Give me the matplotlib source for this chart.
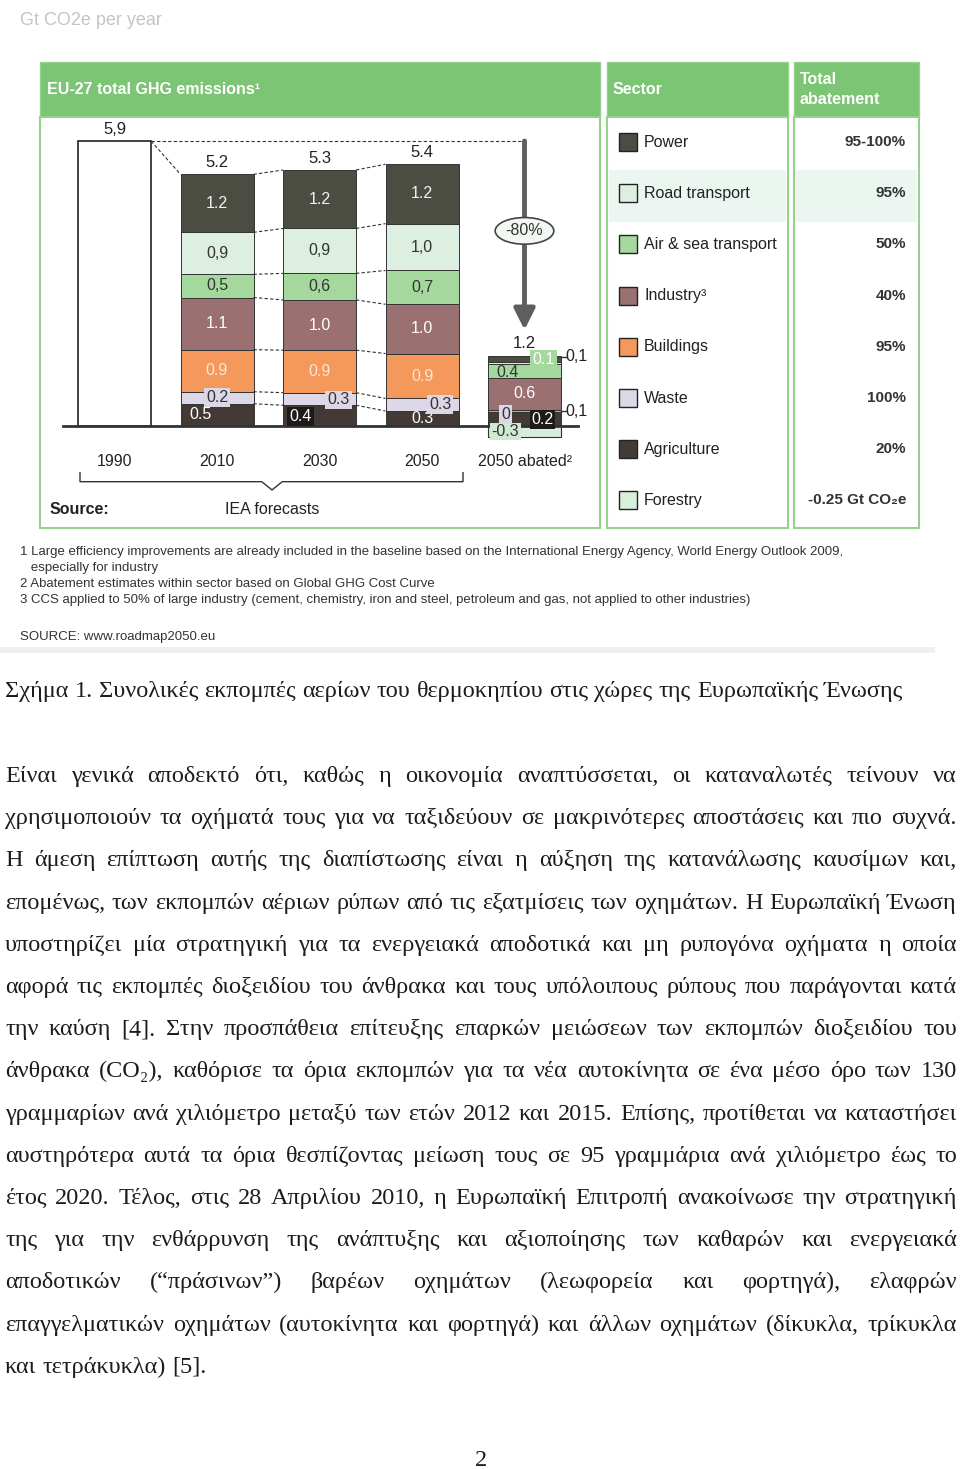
import numpy as np
import matplotlib
matplotlib.use("Agg")
import matplotlib.pyplot as plt
from matplotlib.patches import Rectangle

"""
Data read off the scanned page (Gt CO2e per year)
stack order is bottom -> top
"""
years = ['1990', '2010', '2030', '2050', '2050 abated²']
total_1990 = 5.9
agriculture = [0.46, 0.43, 0.31, 0.28]
waste = [0.25, 0.26, 0.26, 0.0]
buildings = [0.87, 0.88, 0.93, 0.06]
industry = [1.08, 1.04, 1.02, 0.66]
air_sea = [0.48, 0.55, 0.70, 0.29]
road = [0.87, 0.93, 0.97, 0.04]
power = [1.20, 1.21, 1.23, 0.12]
forestry_abated = -0.23

total_lbl = ['5,9', '5.2', '5.3', '5.4', '1.2']
agriculture_lbl = ['0.5', '0.4', '0.3', '0.2']
waste_lbl = ['0.2', '0.3', '0.3', '0']
buildings_lbl = ['0.9', '0.9', '0.9', '0,1']
industry_lbl = ['1.1', '1.0', '1.0', '0.6']
air_sea_lbl = ['0,5', '0,6', '0,7', '0.4']
road_lbl = ['0,9', '0,9', '1,0', '0.1']
power_lbl = ['1.2', '1.2', '1.2', '0,1']
forestry_lbl = '-0.3'

legend_names = ['Power', 'Road transport', 'Air & sea transport', 'Industry³',
                'Buildings', 'Waste', 'Agriculture', 'Forestry']
abatement = ['95-100%', '95%', '50%', '40%', '95%', '100%', '20%', '-0.25 Gt CO₂e']

footnotes = [
    '1 Large efficiency improvements are already included in the baseline based on the International Energy Agency, World Energy Outlook 2009,',
    '   especially for industry',
    '2 Abatement estimates within sector based on Global GHG Cost Curve',
    '3 CCS applied to 50% of large industry (cement, chemistry, iron and steel, petroleum and gas, not applied to other industries)',
]

caption = 'Σχήμα 1. Συνολικές εκπομπές αερίων του θερμοκηπίου στις χώρες της Ευρωπαϊκής Ένωσης'
body_lines = [
    'Είναι γενικά αποδεκτό ότι, καθώς η οικονομία αναπτύσσεται, οι καταναλωτές τείνουν να',
    'χρησιμοποιούν τα οχήματά τους για να ταξιδεύουν σε μακρινότερες αποστάσεις και πιο συχνά.',
    'Η άμεση επίπτωση αυτής της διαπίστωσης είναι η αύξηση της κατανάλωσης καυσίμων και,',
    'επομένως, των εκπομπών αέριων ρύπων από τις εξατμίσεις των οχημάτων. Η Ευρωπαϊκή Ένωση',
    'υποστηρίζει μία στρατηγική για τα ενεργειακά αποδοτικά και μη ρυπογόνα οχήματα η οποία',
    'αφορά τις εκπομπές διοξειδίου του άνθρακα και τους υπόλοιπους ρύπους που παράγονται κατά',
    'την καύση [4]. Στην προσπάθεια επίτευξης επαρκών μειώσεων των εκπομπών διοξειδίου του',
    'άνθρακα (CO₂), καθόρισε τα όρια εκπομπών για τα νέα αυτοκίνητα σε ένα μέσο όρο των 130',
    'γραμμαρίων ανά χιλιόμετρο μεταξύ των ετών 2012 και 2015. Επίσης, προτίθεται να καταστήσει',
    'αυστηρότερα αυτά τα όρια θεσπίζοντας μείωση τους σε 95 γραμμάρια ανά χιλιόμετρο έως το',
    'έτος 2020. Τέλος, στις 28 Απριλίου 2010, η Ευρωπαϊκή Επιτροπή ανακοίνωσε την στρατηγική',
    'της για την ενθάρρυνση της ανάπτυξης και αξιοποίησης των καθαρών και ενεργειακά',
    'αποδοτικών (“πράσινων”) βαρέων οχημάτων (λεωφορεία και φορτηγά), ελαφρών',
    'επαγγελματικών οχημάτων (αυτοκίνητα και φορτηγά) και άλλων οχημάτων (δίκυκλα, τρίκυκλα',
    'και τετράκυκλα) [5].',
]

# colours
c_power = '#4b4c42'
c_road = '#dcefe0'
c_air = '#a5d89c'
c_industry = '#9b7070'
c_buildings = '#f4995b'
c_waste = '#ddd8e8'
c_agri = '#433a36'
c_forest = '#d6eeda'
green_head = '#7cc574'
green_line = '#95d18d'
ink = '#1c1c1c'

sans = ['Liberation Sans', 'DejaVu Sans']
serif = ['Liberation Serif', 'DejaVu Serif']
narrow = ['Liberation Sans Narrow', 'Liberation Sans', 'DejaVu Sans']

fig = plt.figure(figsize=(9.6, 14.69), dpi=100)
page = fig.add_axes([0, 0, 1, 1])
page.set_xlim(0, 960)
page.set_ylim(1469, 0)
page.axis('off')
r = fig.canvas.get_renderer()

page.text(20, 20, 'Gt CO2e per year', fontsize=13, color='#c4c4c4', va='center', family=sans)

# panels (header + body)
panels = [(40, 600), (607, 788), (794, 919)]
for x0, x1 in panels:
    page.add_patch(Rectangle((x0, 62), x1 - x0, 55, fc=green_head, ec=green_line, lw=1))
    page.add_patch(Rectangle((x0, 117), x1 - x0, 411, fc='white', ec=green_line, lw=1.5))
# highlighted row (road transport)
page.add_patch(Rectangle((609, 170), 177, 52, fc='#ecf6f0', ec='none'))
page.add_patch(Rectangle((796, 170), 121, 52, fc='#ecf6f0', ec='none'))

page.text(47, 89, 'EU-27 total GHG emissions¹', color='white', fontsize=11.5, weight='bold', va='center', family=sans)
page.text(613, 89, 'Sector', color='white', fontsize=11.5, weight='bold', va='center', family=sans)
page.text(800, 79, 'Total', color='white', fontsize=11.5, weight='bold', va='center', family=sans)
page.text(800, 99, 'abatement', color='white', fontsize=11.5, weight='bold', va='center', family=sans)

# legend rows
leg_colors = [c_power, c_road, c_air, c_industry, c_buildings, c_waste, c_agri, c_forest]
for i, (name, col, ab) in enumerate(zip(legend_names, leg_colors, abatement)):
    yy = 142 + i * 51.2
    page.add_patch(Rectangle((619, yy - 9), 18, 18, fc=col, ec='#222', lw=1))
    page.text(644, yy, name, fontsize=11.5, color='#222', va='center', family=sans)
    page.text(906, yy, ab, fontsize=11, color='#333', va='center', ha='right', weight='bold', family=sans)

# ---------------- bar chart ----------------
BASE_Y = 426
PX_PER_GT = 48.3
ax = fig.add_axes([40 / 960, 1 - 528 / 1469, 560 / 960, 411 / 1469])
ax.set_facecolor('none')
ax.set_ylim(-(528 - BASE_Y) / PX_PER_GT, (BASE_Y - 117) / PX_PER_GT)
ax.set_xlim((40 - 114.5) / 102.5, (600 - 114.5) / 102.5)
ax.axis('off')

x = np.arange(len(years))
w = 73 / 102.5

ax.bar(x[0], total_1990, width=w, color='white', edgecolor='#222', lw=1.2)

stack = [agriculture, waste, buildings, industry, air_sea, road, power]
stack_lbl = [agriculture_lbl, waste_lbl, buildings_lbl, industry_lbl, air_sea_lbl, road_lbl, power_lbl]
stack_col = [c_agri, c_waste, c_buildings, c_industry, c_air, c_road, c_power]
bounds = []
for i in range(4):
    b = 0
    lv = []
    for vals, col in zip(stack, stack_col):
        ax.bar(x[i + 1], vals[i], bottom=b, width=w, color=col, edgecolor='#333', lw=0.7)
        b += vals[i]
        lv.append(b)
    bounds.append(lv)
ax.bar(x[4], forestry_abated, width=w, color=c_forest, edgecolor='#333', lw=0.8)

# baseline
ax.plot([(63 - 114.5) / 102.5, (578 - 114.5) / 102.5], [0, 0], color='#333', lw=2, zorder=5)

# connector lines
dash = dict(color='#333', lw=0.8, ls=(0, (3, 2)))
ax.plot([x[0] + w / 2, x[1] - w / 2], [total_1990, bounds[0][-1]], **dash)
for i in range(2):
    for a, b in zip(bounds[i], bounds[i + 1]):
        ax.plot([x[i + 1] + w / 2, x[i + 2] - w / 2], [a, b], **dash)
ax.plot([x[0] + w / 2, x[4]], [total_1990, total_1990], **dash)

# arrow + -80%
ax.annotate('', xy=(x[4], 1.99), xytext=(x[4], total_1990),
            arrowprops=dict(arrowstyle='-|>,head_width=0.45,head_length=0.9', color='#5e5e5e',
                            lw=3.5, shrinkA=0, shrinkB=0, mutation_scale=14))
ax.text(x[4], 4.04, '-80%', ha='center', va='center', fontsize=11.5, color='#333', family=sans,
        bbox=dict(boxstyle='ellipse,pad=0.12', fc='#f2f7f2', ec='#444', lw=1.2), zorder=6)

# totals
tot_tops = [total_1990] + [bl[-1] for bl in bounds]
for i, t in enumerate(total_lbl):
    ax.annotate(t, (x[i], tot_tops[i]), xytext=(0, 12), textcoords='offset pixels',
                ha='center', va='center', fontsize=12, color='#222', family=sans)

# segment labels: text colour per sector, and per-bar x offsets/boxes
txt_col = ['white', '#333', '#fde6d4', 'white', '#333', '#333', '#f2f2f2']
lav = dict(boxstyle='square,pad=0.12', fc='#dcd6e6', ec='none')
blk = dict(boxstyle='square,pad=0.12', fc='#1e1a1a', ec='none')
style = {
    (1, 0): dict(dx=0, box=lav), (2, 0): dict(dx=19, dy=-1, box=lav), (3, 0): dict(dx=18, box=lav),
    (1, 1): dict(dx=-17), (2, 1): dict(dx=-19, dy=-1, box=blk),
}
for i in range(3):
    lo = 0
    for j, (vals, lbls) in enumerate(zip(stack, stack_lbl)):
        mid = lo + vals[i] / 2
        lo += vals[i]
        k = {0: 1, 1: 0}.get(j)
        st = style.get((i + 1, k), {}) if k is not None else {}
        ax.annotate(lbls[i], (x[i + 1], mid), xytext=(st.get('dx', 0), st.get('dy', 0)),
                    textcoords='offset pixels', ha='center', va='center', fontsize=11.5,
                    color=txt_col[j] if k != 0 else '#333', family=sans, bbox=st.get('box'), zorder=6)

# abated bar labels
lo = 0
ab_style = [
    dict(dx=18, dy=0, col='white', box=blk),            # agriculture
    dict(dx=-19, dy=-2, col='#333', box=lav),           # waste
    dict(dx=52, dy=0, col='#222', box=None),            # buildings (outside)
    dict(dx=0, dy=0, col='white', box=None),            # industry
    dict(dx=-17, dy=-2, col='#333', box=None),          # air & sea
    dict(dx=19, dy=3, col='white', box=dict(boxstyle='square,pad=0.12', fc=c_air, ec='none')),  # road
    dict(dx=52, dy=2, col='#222', box=None),            # power (outside)
]
for j, (vals, lbls) in enumerate(zip(stack, stack_lbl)):
    mid = lo + vals[3] / 2
    lo += vals[3]
    st = ab_style[j]
    ax.annotate(lbls[3], (x[4], mid), xytext=(st['dx'], st['dy']), textcoords='offset pixels',
                ha='center', va='center', fontsize=11.5, color=st['col'], family=sans,
                bbox=st['box'], zorder=6)
    if st['dx'] > 40:
        ax.plot([x[4] + w / 2, x[4] + w / 2 + 0.05], [mid + st['dy'] / PX_PER_GT] * 2, color='#333', lw=1)
ax.annotate(forestry_lbl, (x[4], forestry_abated / 2), xytext=(-19, 0), textcoords='offset pixels',
            ha='center', va='center', fontsize=11.5, color='#333', family=sans,
            bbox=dict(boxstyle='square,pad=0.08', fc='#cfe9d3', ec='none'), zorder=6)

# category labels + bracket
for i, yl in enumerate(years):
    ax.text(x[i], -0.745, yl, ha='center', va='center', fontsize=11.5, color='#222', family=sans)
bx0, bx1, bxm = (80 - 114.5) / 102.5, (463 - 114.5) / 102.5, (272 - 114.5) / 102.5
ax.plot([bx0, bx0, bxm - 0.1, bxm, bxm + 0.1, bx1, bx1],
        [-0.967, -1.153, -1.153, -1.325, -1.153, -1.153, -0.967], color='#333', lw=1)
ax.text((50 - 114.5) / 102.5, -1.72, 'Source:', fontsize=11.5, weight='bold', color='#222', va='center', family=sans)
ax.text(bxm, -1.72, 'IEA forecasts', fontsize=11.5, color='#222', va='center', ha='center', family=sans)

# footnotes
fn_y = [552, 568, 584, 600]
for t, yy in zip(footnotes, fn_y):
    page.text(20, yy, t, fontsize=9.5, color='#333', va='center', family=narrow)
page.text(20, 637, 'SOURCE: www.roadmap2050.eu', fontsize=9.5, color='#333', va='center', family=narrow)
page.add_patch(Rectangle((0, 647), 935, 6, fc='#edf1ed', ec='none'))

# ---------------- Greek text (justified) ----------------
X0, X1 = 5, 957


def measure(s, size):
    t = page.text(0, 0, s, fontsize=size, family=serif)
    wd = t.get_window_extent(r).width
    t.remove()
    return wd


fs = 17.5
sp = measure('a a', fs) - measure('aa', fs)
need = 0
for ln in body_lines[:-1]:
    words = ln.split(' ')
    need = max(need, sum(measure(wd, fs) for wd in words) + 0.55 * sp * (len(words) - 1))
if need > (X1 - X0):
    fs = fs * (X1 - X0) / need * 0.998
sp = measure('a a', fs) - measure('aa', fs)


def put_line(text, y, justify=True):
    words = text.split(' ')
    ts = [page.text(0, y, wd, fontsize=fs, family=serif, color=ink, va='baseline') for wd in words]
    ws = [t.get_window_extent(r).width for t in ts]
    if justify and len(words) > 1:
        gap = (X1 - X0 - sum(ws)) / (len(words) - 1)
    else:
        gap = sp
    xx = X0
    for t, wd in zip(ts, ws):
        t.set_x(xx)
        xx += wd + gap


put_line(caption, 697, justify=False)
for i, ln in enumerate(body_lines):
    put_line(ln, 782 + i * 42.2, justify=(i < len(body_lines) - 1))

page.text(481, 1460, '2', fontsize=fs, family=serif, color=ink, ha='center', va='center')

fig.savefig('out.png', dpi=100)
